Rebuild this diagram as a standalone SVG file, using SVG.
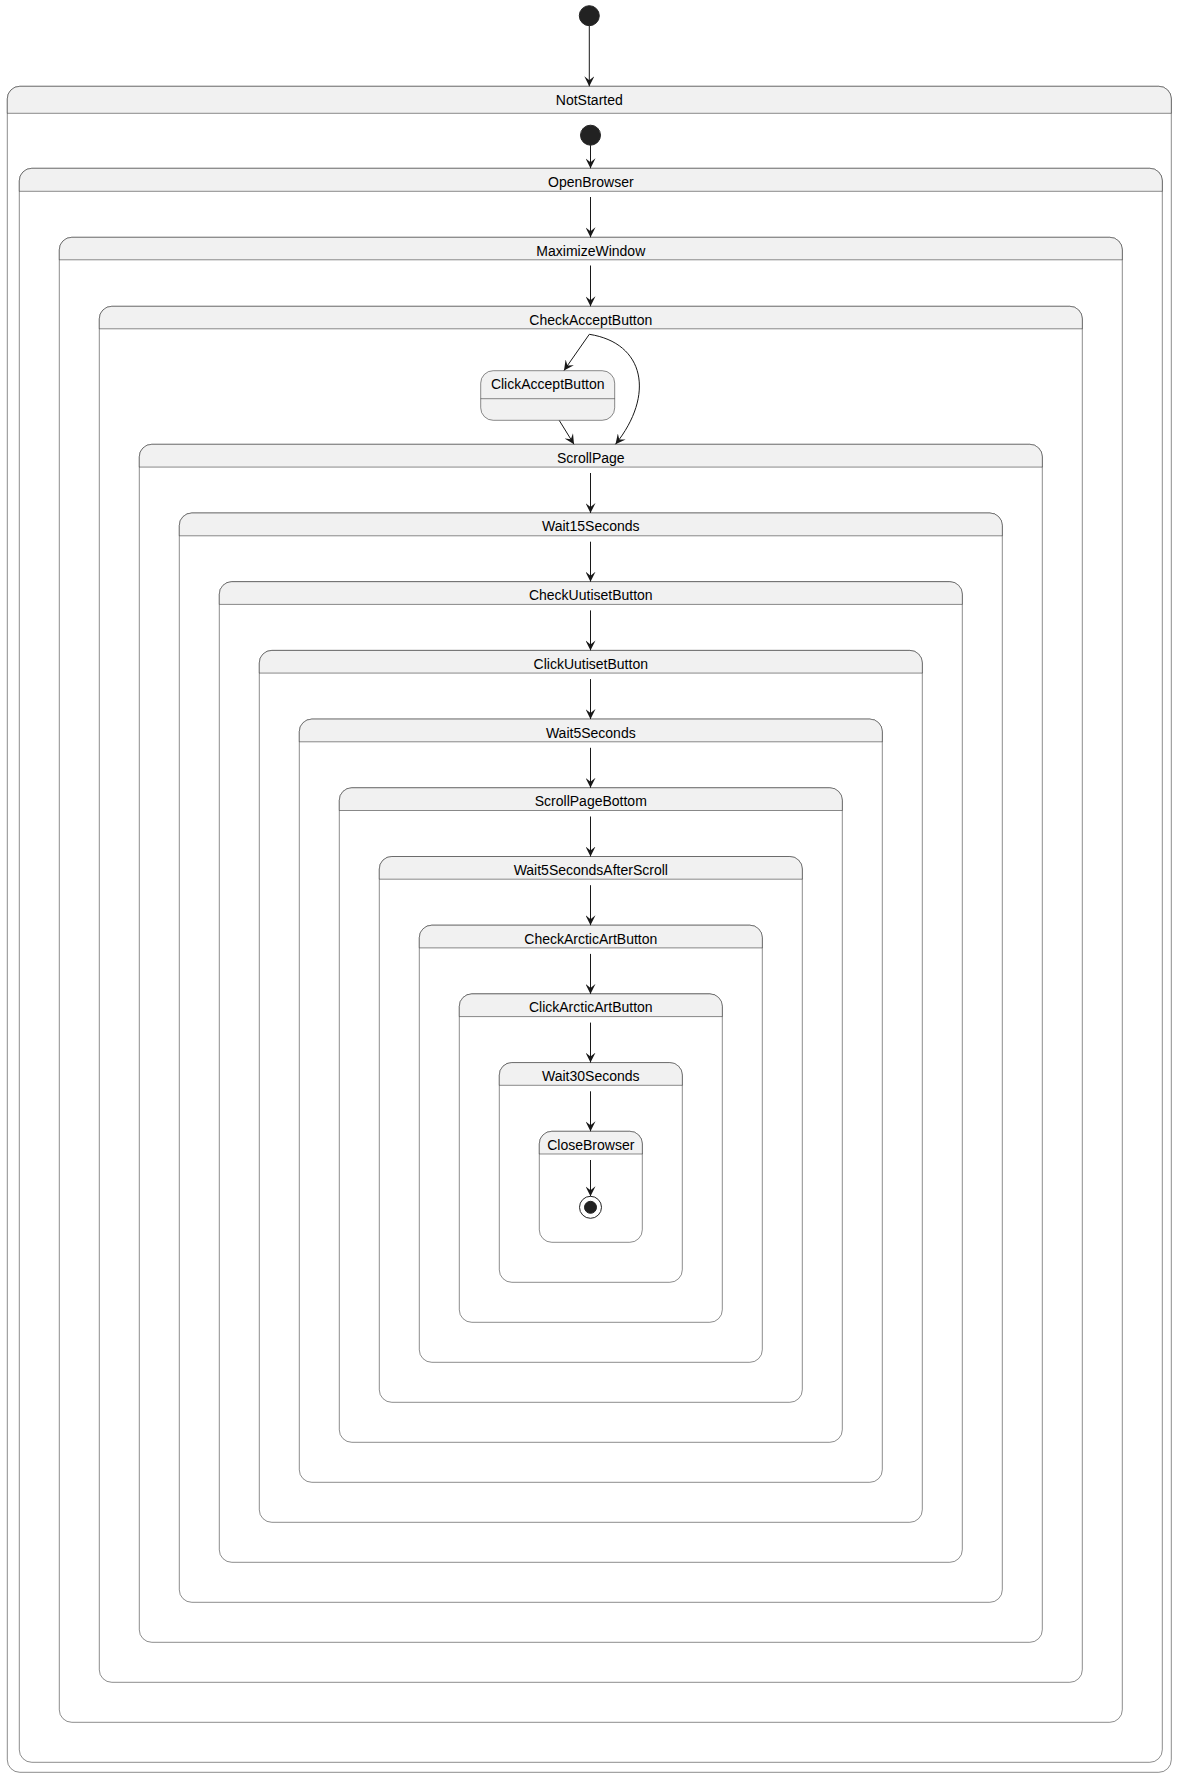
<svg xmlns="http://www.w3.org/2000/svg" width="1177" height="1777" viewBox="0 0 1177 1777">
<style>
.box{fill:#FFFFFF;stroke:#181818;stroke-width:0.5}
.hdr{fill:#F1F1F1;stroke:#181818;stroke-width:0.5}
.simple{fill:#F1F1F1;stroke:#181818;stroke-width:0.5}
.lbl{font-family:"Liberation Sans",Arial,sans-serif;font-size:14px;fill:#000000;text-anchor:middle}
.edge{fill:none;stroke:#181818;stroke-width:1}
.start{fill:#222222;stroke:#222222;stroke-width:1}
</style>
<defs>
<marker id="ah" viewBox="0 0 10 10" refX="10" refY="5" markerWidth="10" markerHeight="10" markerUnits="userSpaceOnUse" orient="auto">
<path d="M0,0 L10,5 L0,10 L4,5 Z" fill="#181818"/>
</marker>
</defs>
<rect width="1177" height="1777" fill="#FFFFFF"/>

<g id="start_outer"><circle class="start" cx="589.3" cy="15.7" r="10"/></g>

<g id="NotStarted">
<rect class="box" x="7.3" y="86.3" width="1164" height="1686" rx="12.5" ry="12.5"/>
<path class="hdr" d="M7.3,113.3 L7.3,98.8 A12.5,12.5 0 0 1 19.8,86.3 L1158.8,86.3 A12.5,12.5 0 0 1 1171.3,98.8 L1171.3,113.3 Z"/>
<text class="lbl" x="589.3" y="104.8">NotStarted</text>
</g>

<g id="start_inner"><circle class="start" cx="590.5" cy="135.2" r="10"/></g>

<g id="OpenBrowser">
<rect class="box" x="19.3" y="168.3" width="1143" height="1594" rx="12.5" ry="12.5"/>
<path class="hdr" d="M19.3,191.3 L19.3,180.8 A12.5,12.5 0 0 1 31.8,168.3 L1149.8,168.3 A12.5,12.5 0 0 1 1162.3,180.8 L1162.3,191.3 Z"/>
<text class="lbl" x="590.8" y="186.7">OpenBrowser</text>
</g>

<g id="MaximizeWindow">
<rect class="box" x="59.3" y="237.3" width="1063" height="1485" rx="12.5" ry="12.5"/>
<path class="hdr" d="M59.3,259.8 L59.3,249.8 A12.5,12.5 0 0 1 71.8,237.3 L1109.8,237.3 A12.5,12.5 0 0 1 1122.3,249.8 L1122.3,259.8 Z"/>
<text class="lbl" x="590.8" y="255.7">MaximizeWindow</text>
</g>

<g id="CheckAcceptButton">
<rect class="box" x="99.3" y="306.3" width="983" height="1376" rx="12.5" ry="12.5"/>
<path class="hdr" d="M99.3,328.8 L99.3,318.8 A12.5,12.5 0 0 1 111.8,306.3 L1069.8,306.3 A12.5,12.5 0 0 1 1082.3,318.8 L1082.3,328.8 Z"/>
<text class="lbl" x="590.8" y="324.7">CheckAcceptButton</text>
</g>

<g id="ClickAcceptButton">
<rect class="simple" x="480.7" y="370.7" width="134" height="49.6" rx="12.5" ry="12.5"/>
<line x1="480.7" y1="398.7" x2="614.7" y2="398.7" stroke="#181818" stroke-width="0.5"/>
<text class="lbl" x="547.7" y="389.2">ClickAcceptButton</text>
</g>

<g id="ScrollPage">
<rect class="box" x="139.3" y="444.3" width="903" height="1198" rx="12.5" ry="12.5"/>
<path class="hdr" d="M139.3,467.1 L139.3,456.8 A12.5,12.5 0 0 1 151.8,444.3 L1029.8,444.3 A12.5,12.5 0 0 1 1042.3,456.8 L1042.3,467.1 Z"/>
<text class="lbl" x="590.8" y="462.7">ScrollPage</text>
</g>

<g id="Wait15Seconds">
<rect class="box" x="179.3" y="513" width="823" height="1089.3" rx="12.5" ry="12.5"/>
<path class="hdr" d="M179.3,535.8 L179.3,525.5 A12.5,12.5 0 0 1 191.8,513 L989.8,513 A12.5,12.5 0 0 1 1002.3,525.5 L1002.3,535.8 Z"/>
<text class="lbl" x="590.8" y="531.4">Wait15Seconds</text>
</g>

<g id="CheckUutisetButton">
<rect class="box" x="219.3" y="581.7" width="743" height="980.6" rx="12.5" ry="12.5"/>
<path class="hdr" d="M219.3,604.4 L219.3,594.2 A12.5,12.5 0 0 1 231.8,581.7 L949.8,581.7 A12.5,12.5 0 0 1 962.3,594.2 L962.3,604.4 Z"/>
<text class="lbl" x="590.8" y="600.1">CheckUutisetButton</text>
</g>

<g id="ClickUutisetButton">
<rect class="box" x="259.3" y="650.4" width="663" height="871.9" rx="12.5" ry="12.5"/>
<path class="hdr" d="M259.3,673.1 L259.3,662.9 A12.5,12.5 0 0 1 271.8,650.4 L909.8,650.4 A12.5,12.5 0 0 1 922.3,662.9 L922.3,673.1 Z"/>
<text class="lbl" x="590.8" y="668.8">ClickUutisetButton</text>
</g>

<g id="Wait5Seconds">
<rect class="box" x="299.3" y="719.1" width="583" height="763.2" rx="12.5" ry="12.5"/>
<path class="hdr" d="M299.3,741.8 L299.3,731.6 A12.5,12.5 0 0 1 311.8,719.1 L869.8,719.1 A12.5,12.5 0 0 1 882.3,731.6 L882.3,741.8 Z"/>
<text class="lbl" x="590.8" y="737.5">Wait5Seconds</text>
</g>

<g id="ScrollPageBottom">
<rect class="box" x="339.3" y="787.8" width="503" height="654.5" rx="12.5" ry="12.5"/>
<path class="hdr" d="M339.3,810.5 L339.3,800.3 A12.5,12.5 0 0 1 351.8,787.8 L829.8,787.8 A12.5,12.5 0 0 1 842.3,800.3 L842.3,810.5 Z"/>
<text class="lbl" x="590.8" y="806.2">ScrollPageBottom</text>
</g>

<g id="Wait5SecondsAfterScroll">
<rect class="box" x="379.3" y="856.5" width="423" height="545.8" rx="12.5" ry="12.5"/>
<path class="hdr" d="M379.3,879.2 L379.3,869 A12.5,12.5 0 0 1 391.8,856.5 L789.8,856.5 A12.5,12.5 0 0 1 802.3,869 L802.3,879.2 Z"/>
<text class="lbl" x="590.8" y="874.9">Wait5SecondsAfterScroll</text>
</g>

<g id="CheckArcticArtButton">
<rect class="box" x="419.3" y="925.2" width="343" height="437.1" rx="12.5" ry="12.5"/>
<path class="hdr" d="M419.3,947.9 L419.3,937.7 A12.5,12.5 0 0 1 431.8,925.2 L749.8,925.2 A12.5,12.5 0 0 1 762.3,937.7 L762.3,947.9 Z"/>
<text class="lbl" x="590.8" y="943.6">CheckArcticArtButton</text>
</g>

<g id="ClickArcticArtButton">
<rect class="box" x="459.3" y="993.9" width="263" height="328.4" rx="12.5" ry="12.5"/>
<path class="hdr" d="M459.3,1016.6 L459.3,1006.4 A12.5,12.5 0 0 1 471.8,993.9 L709.8,993.9 A12.5,12.5 0 0 1 722.3,1006.4 L722.3,1016.6 Z"/>
<text class="lbl" x="590.8" y="1012.3">ClickArcticArtButton</text>
</g>

<g id="Wait30Seconds">
<rect class="box" x="499.3" y="1062.6" width="183" height="219.7" rx="12.5" ry="12.5"/>
<path class="hdr" d="M499.3,1085.3 L499.3,1075.1 A12.5,12.5 0 0 1 511.8,1062.6 L669.8,1062.6 A12.5,12.5 0 0 1 682.3,1075.1 L682.3,1085.3 Z"/>
<text class="lbl" x="590.8" y="1081">Wait30Seconds</text>
</g>

<g id="CloseBrowser">
<rect class="box" x="539.3" y="1131.3" width="103" height="111" rx="12.5" ry="12.5"/>
<path class="hdr" d="M539.3,1154 L539.3,1143.8 A12.5,12.5 0 0 1 551.8,1131.3 L629.8,1131.3 A12.5,12.5 0 0 1 642.3,1143.8 L642.3,1154 Z"/>
<text class="lbl" x="590.8" y="1149.7">CloseBrowser</text>
</g>

<g id="end">
<circle cx="590.5" cy="1207.3" r="11" fill="none" stroke="#222222" stroke-width="1"/>
<circle cx="590.5" cy="1207.3" r="6" fill="#222222" stroke="#222222" stroke-width="1"/>
</g>

<g id="connectors">
<line class="edge" x1="589.3" y1="25.7" x2="589.3" y2="86.3" marker-end="url(#ah)"/>
<line class="edge" x1="590.5" y1="145.2" x2="590.5" y2="168.3" marker-end="url(#ah)"/>
<line class="edge" x1="590.5" y1="197" x2="590.5" y2="237.3" marker-end="url(#ah)"/>
<line class="edge" x1="590.5" y1="265.5" x2="590.5" y2="306.3" marker-end="url(#ah)"/>
<line class="edge" x1="589.3" y1="334.3" x2="564" y2="370.5" marker-end="url(#ah)"/>
<path class="edge" d="M589.3,334.3 C645,343 655,395 615.5,444.3" marker-end="url(#ah)"/>
<line class="edge" x1="559.3" y1="420.5" x2="574" y2="444.3" marker-end="url(#ah)"/>
<line class="edge" x1="590.5" y1="473" x2="590.5" y2="513" marker-end="url(#ah)"/>
<line class="edge" x1="590.5" y1="541.7" x2="590.5" y2="581.7" marker-end="url(#ah)"/>
<line class="edge" x1="590.5" y1="610.4" x2="590.5" y2="650.4" marker-end="url(#ah)"/>
<line class="edge" x1="590.5" y1="679.1" x2="590.5" y2="719.1" marker-end="url(#ah)"/>
<line class="edge" x1="590.5" y1="747.8" x2="590.5" y2="787.8" marker-end="url(#ah)"/>
<line class="edge" x1="590.5" y1="816.5" x2="590.5" y2="856.5" marker-end="url(#ah)"/>
<line class="edge" x1="590.5" y1="885.2" x2="590.5" y2="925.2" marker-end="url(#ah)"/>
<line class="edge" x1="590.5" y1="953.9" x2="590.5" y2="993.9" marker-end="url(#ah)"/>
<line class="edge" x1="590.5" y1="1022.6" x2="590.5" y2="1062.6" marker-end="url(#ah)"/>
<line class="edge" x1="590.5" y1="1091.3" x2="590.5" y2="1131.3" marker-end="url(#ah)"/>
<line class="edge" x1="590.5" y1="1160" x2="590.5" y2="1196.3" marker-end="url(#ah)"/>
</g>
</svg>
